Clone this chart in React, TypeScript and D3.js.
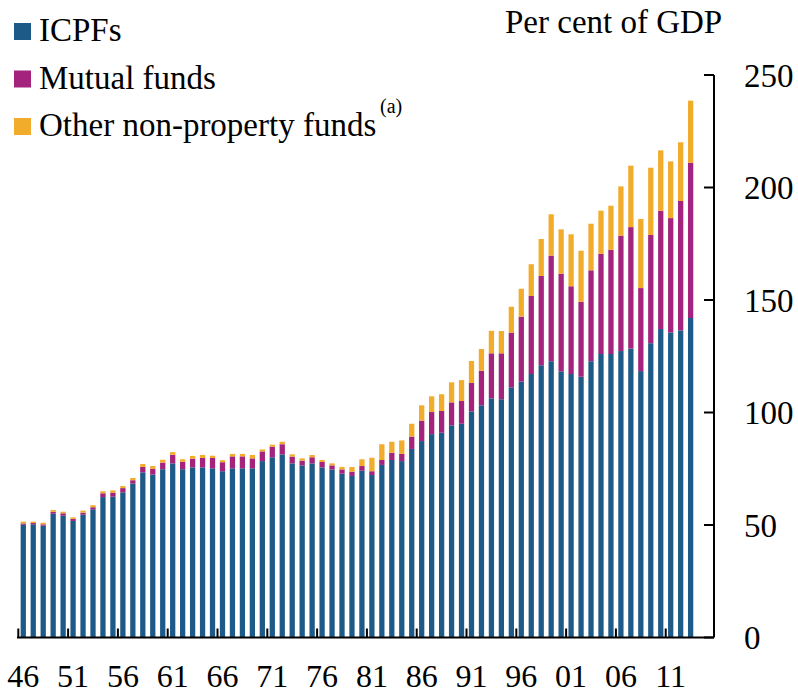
import React, { useMemo } from "react";
import * as d3 from "d3";

const WIDTH = 798;
const HEIGHT = 695;
const FONT = "'Liberation Serif', 'Times New Roman', serif";

const X_LEFT = 18.3;
const X_RIGHT = 695.6;
const AXIS_LEFT = 17;
const AXIS_RIGHT = 714;
const Y_BOTTOM = 637.5;
const Y_TOP = 75;

const colors = ["#1e5a87", "#a3237d", "#f2ac2b"];
const seriesNames = ["ICPFs", "Mutual funds", "Other non-property funds"];

const years = d3.range(1946, 2014);

// per cent of GDP
const icpfs = [
  50.1, 50.3, 49.7, 55.0, 54.1, 51.8, 54.6, 57.0, 62.4, 62.6,
  64.5, 68.4, 73.4, 72.4, 74.8, 77.4, 74.8, 75.6, 75.6, 75.2,
  73.9, 75.2, 75.2, 75.2, 78.4, 80.1, 81.4, 77.4, 76.5, 77.4,
  75.6, 74.7, 72.8, 71.8, 74.1, 72.2, 76.7, 78.9, 78.4, 83.8,
  87.3, 90.4, 91.0, 94.3, 95.0, 100.5, 103.2, 106.3, 105.9, 111.2,
  113.7, 117.1, 121.0, 122.8, 118.3, 117.1, 115.9, 122.8, 126.0, 126.0,
  127.3, 128.4, 118.4, 130.8, 137.1, 135.6, 136.5, 142.0,
];
const mutualFunds = [
  0.6, 0.6, 0.6, 0.9, 1.1, 0.9, 0.9, 0.9, 1.7, 1.8,
  1.9, 1.5, 2.4, 2.6, 2.9, 3.8, 3.3, 3.9, 4.2, 4.6,
  4.0, 5.3, 5.3, 4.4, 4.3, 4.7, 4.5, 3.0, 2.1, 2.7,
  2.4, 1.8, 1.9, 1.9, 2.1, 1.7, 2.2, 3.2, 3.2, 5.5,
  9.1, 9.8, 9.7, 10.2, 10.1, 12.6, 15.4, 20.0, 20.4, 24.3,
  28.9, 34.7, 39.7, 46.9, 43.4, 39.0, 33.3, 40.4, 44.5, 46.3,
  51.3, 54.0, 36.9, 48.1, 52.6, 50.8, 57.5, 69.0,
];
const otherFunds = [
  0.8, 0.6, 0.7, 0.8, 0.7, 0.7, 0.9, 0.9, 0.9, 1.0,
  0.9, 1.0, 1.3, 1.2, 1.3, 1.2, 1.1, 1.2, 1.3, 1.0,
  0.9, 1.1, 1.1, 1.5, 0.9, 0.9, 1.1, 1.0, 1.0, 1.0,
  0.9, 0.9, 1.1, 2.1, 3.0, 6.0, 7.0, 4.9, 6.0, 5.7,
  6.8, 7.0, 7.4, 8.9, 9.3, 9.8, 9.6, 10.0, 9.9, 11.5,
  12.4, 14.1, 16.4, 18.4, 19.7, 23.1, 22.7, 20.7, 19.2, 19.6,
  21.9, 27.3, 30.7, 29.9, 26.8, 25.2, 26.1, 27.6,
];

const xTickYears = [1946, 1951, 1956, 1961, 1966, 1971, 1976, 1981, 1986, 1991, 1996, 2001, 2006, 2011];
const xTickLabels = ["46", "51", "56", "61", "66", "71", "76", "81", "86", "91", "96", "01", "06", "11"];
const yTicks = [0, 50, 100, 150, 200, 250];

export default function App() {
  const rows = useMemo(
    () =>
      years.map((year, i) => ({
        year,
        s0: icpfs[i],
        s1: mutualFunds[i],
        s2: otherFunds[i],
      })),
    []
  );

  const stacked = useMemo(() => d3.stack<any>().keys(["s0", "s1", "s2"])(rows), [rows]);

  const x = d3
    .scaleBand<number>()
    .domain(years)
    .range([X_LEFT, X_RIGHT])
    .paddingInner(0.47)
    .paddingOuter(0.235);
  const step = x.step();
  const bandLeft = (yr: number) => (x(yr) as number) - step * 0.235;

  const y = d3.scaleLinear().domain([0, 250]).range([Y_BOTTOM, Y_TOP]);

  return (
    <svg
      width={WIDTH}
      height={HEIGHT}
      style={{ position: "absolute", left: 0, top: 0, background: "#fff" }}
    >
      {stacked.map((layer, li) => (
        <g key={li} fill={colors[li]}>
          {layer.map((d, i) => (
            <rect
              key={i}
              x={x(d.data.year)}
              y={y(d[1])}
              width={x.bandwidth()}
              height={Math.max(0, y(d[0]) - y(d[1]))}
            />
          ))}
        </g>
      ))}

      {/* x axis */}
      <line x1={AXIS_LEFT} x2={AXIS_RIGHT} y1={Y_BOTTOM} y2={Y_BOTTOM} stroke="#000" strokeWidth={2} />
      {xTickYears.map((yr, i) => (
        <g key={yr}>
          <line
            x1={bandLeft(yr)}
            x2={bandLeft(yr)}
            y1={Y_BOTTOM}
            y2={Y_BOTTOM - 9}
            stroke="#000"
            strokeWidth={2}
          />
          <text
            x={(x(yr) as number) + x.bandwidth() / 2}
            y={687}
            textAnchor="middle"
            fontFamily={FONT}
            fontSize={32}
          >
            {xTickLabels[i]}
          </text>
        </g>
      ))}

      {/* y axis on the right */}
      <line x1={AXIS_RIGHT} x2={AXIS_RIGHT} y1={Y_TOP} y2={Y_BOTTOM} stroke="#000" strokeWidth={2} />
      {yTicks.map((t) => (
        <g key={t}>
          <line x1={AXIS_RIGHT - 10} x2={AXIS_RIGHT} y1={y(t)} y2={y(t)} stroke="#000" strokeWidth={2} />
          <text x={744} y={y(t)} dy="0.35em" fontFamily={FONT} fontSize={33}>
            {t}
          </text>
        </g>
      ))}
      <text x={505} y={33} fontFamily={FONT} fontSize={33}>
        Per cent of GDP
      </text>

      {/* legend */}
      {seriesNames.map((name, i) => {
        const base = 41 + i * 47.5;
        return (
          <g key={name}>
            <rect x={14} y={base - 18} width={17} height={17} fill={colors[i]} />
            <text x={39} y={base} fontFamily={FONT} fontSize={33}>
              {name}
            </text>
          </g>
        );
      })}
      <text x={380} y={113} fontFamily={FONT} fontSize={20}>
        (a)
      </text>
    </svg>
  );
}
